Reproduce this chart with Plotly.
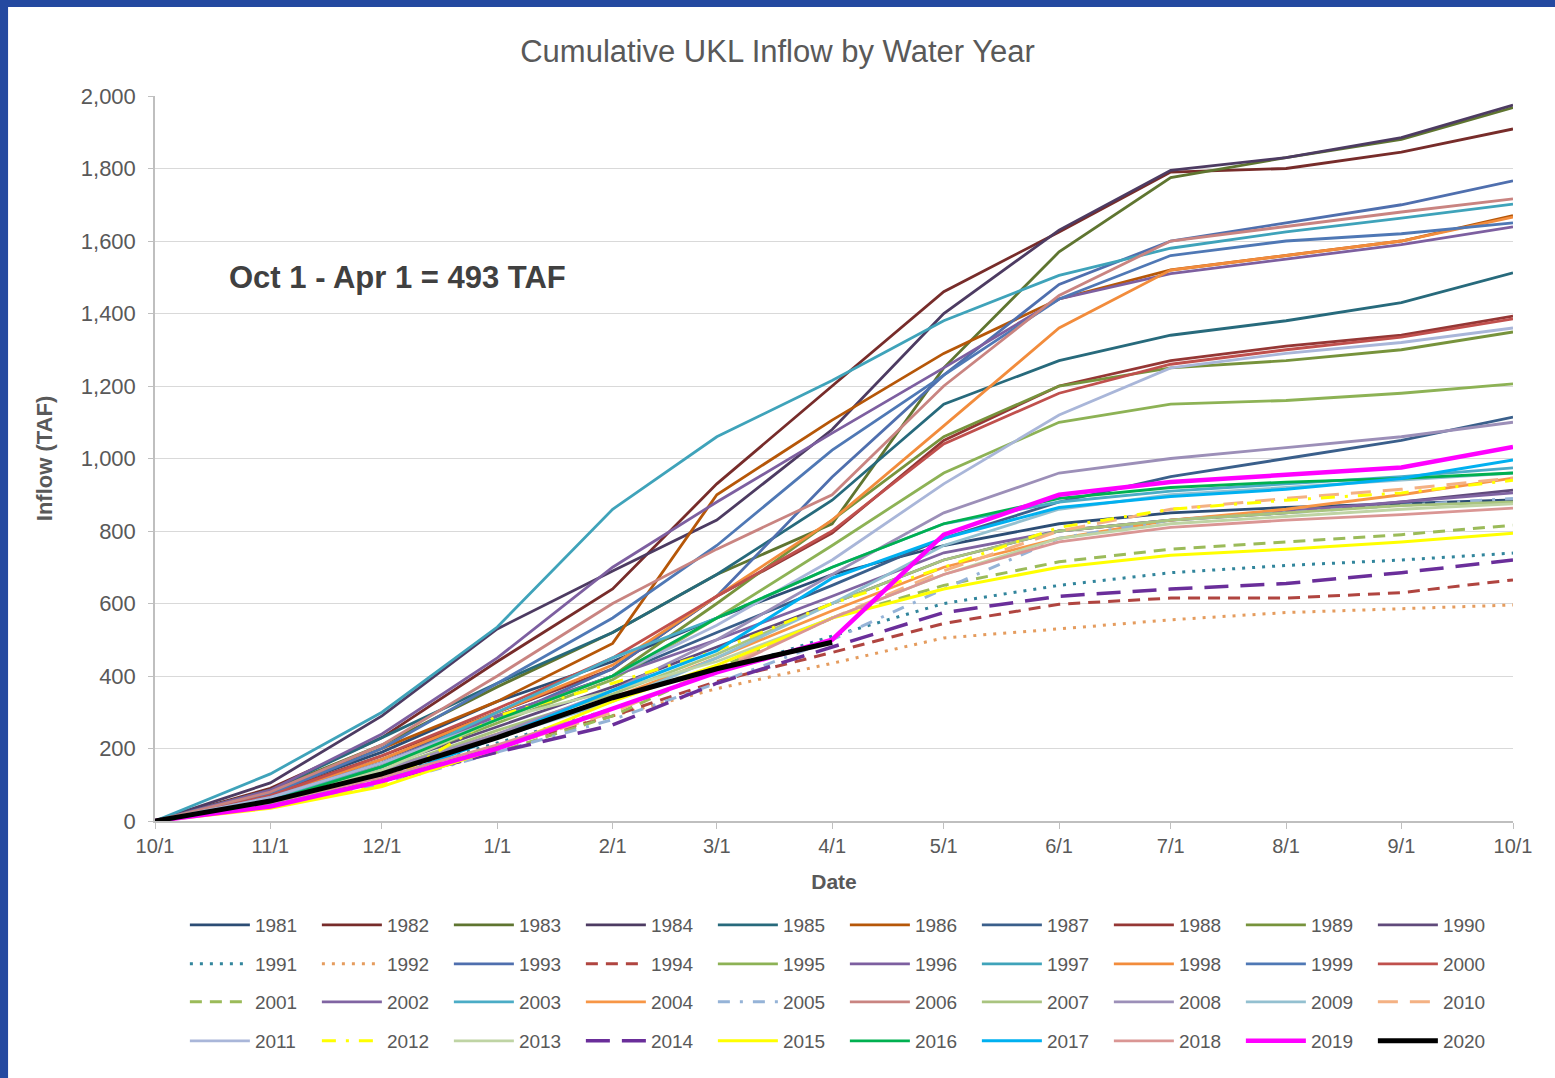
import plotly.graph_objects as go

# first of each month over one water year (Oct 1 -> Oct 1)
DATES = [
    "2018-10-01", "2018-11-01", "2018-12-01", "2019-01-01", "2019-02-01",
    "2019-03-01", "2019-04-01", "2019-05-01", "2019-06-01", "2019-07-01",
    "2019-08-01", "2019-09-01", "2019-10-01",
]

# cumulative inflow (TAF) read at each month start
INFLOW_1981 = [0, 80, 190, 330, 440, 560, 680, 760, 820, 850, 865, 875, 886]
INFLOW_1982 = [0, 90, 230, 440, 640, 930, 1200, 1460, 1625, 1790, 1800, 1845, 1909]
INFLOW_1983 = [0, 85, 210, 370, 520, 680, 820, 1250, 1570, 1775, 1830, 1880, 1968]
INFLOW_1984 = [0, 105, 290, 530, 690, 830, 1080, 1400, 1630, 1795, 1830, 1885, 1975]
INFLOW_1985 = [0, 85, 230, 380, 520, 680, 885, 1150, 1270, 1340, 1380, 1430, 1512]
INFLOW_1986 = [0, 80, 200, 330, 490, 900, 1106, 1290, 1440, 1520, 1560, 1600, 1670]
INFLOW_1987 = [0, 70, 170, 290, 400, 520, 650, 780, 880, 950, 1000, 1050, 1114]
INFLOW_1988 = [0, 75, 180, 300, 420, 620, 794, 1050, 1200, 1270, 1310, 1340, 1393]
INFLOW_1989 = [0, 65, 160, 280, 400, 600, 830, 1060, 1200, 1250, 1270, 1300, 1349]
INFLOW_1990 = [0, 60, 150, 260, 370, 480, 600, 720, 800, 830, 850, 880, 913]
INFLOW_1991 = [0, 50, 125, 215, 310, 410, 510, 600, 650, 685, 705, 720, 739]
INFLOW_1992 = [0, 45, 120, 210, 290, 365, 435, 505, 530, 555, 575, 585, 596]
INFLOW_1993 = [0, 60, 160, 280, 420, 620, 949, 1230, 1480, 1600, 1650, 1700, 1766]
INFLOW_1994 = [0, 50, 120, 205, 290, 385, 465, 545, 598, 615, 615, 630, 665]
INFLOW_1995 = [0, 60, 150, 270, 390, 560, 760, 960, 1100, 1150, 1160, 1180, 1206]
INFLOW_1996 = [0, 85, 240, 450, 700, 880, 1070, 1250, 1440, 1510, 1550, 1590, 1639]
INFLOW_1997 = [0, 130, 300, 535, 860, 1060, 1215, 1380, 1505, 1580, 1625, 1663, 1702]
INFLOW_1998 = [0, 70, 170, 300, 430, 620, 830, 1090, 1360, 1520, 1560, 1600, 1666]
INFLOW_1999 = [0, 75, 200, 380, 560, 760, 1023, 1230, 1440, 1560, 1600, 1620, 1650]
INFLOW_2000 = [0, 70, 180, 310, 450, 620, 800, 1040, 1180, 1260, 1300, 1335, 1385]
INFLOW_2001 = [0, 45, 110, 190, 290, 420, 560, 650, 715, 750, 770, 790, 816]
INFLOW_2002 = [0, 65, 160, 290, 400, 500, 620, 740, 800, 830, 855, 880, 905]
INFLOW_2003 = [0, 60, 150, 300, 450, 560, 700, 820, 880, 910, 930, 950, 974]
INFLOW_2004 = [0, 55, 140, 240, 340, 450, 580, 700, 780, 830, 860, 900, 946]
INFLOW_2005 = [0, 40, 100, 190, 280, 380, 500, 640, 780, 830, 850, 870, 890]
INFLOW_2006 = [0, 80, 210, 400, 600, 750, 900, 1200, 1450, 1600, 1640, 1680, 1716]
INFLOW_2007 = [0, 55, 140, 250, 350, 460, 600, 720, 800, 830, 850, 870, 880]
INFLOW_2008 = [0, 55, 140, 240, 360, 500, 680, 850, 960, 1000, 1030, 1060, 1100]
INFLOW_2009 = [0, 50, 130, 230, 330, 450, 600, 760, 860, 900, 920, 940, 960]
INFLOW_2010 = [0, 45, 110, 200, 300, 420, 560, 690, 800, 860, 890, 915, 946]
INFLOW_2011 = [0, 65, 160, 280, 400, 540, 720, 930, 1120, 1250, 1290, 1320, 1360]
INFLOW_2012 = [0, 40, 100, 290, 380, 470, 600, 700, 810, 860, 885, 905, 940]
INFLOW_2013 = [0, 55, 140, 280, 360, 440, 560, 680, 780, 820, 840, 860, 875]
INFLOW_2014 = [0, 45, 110, 190, 265, 380, 480, 575, 620, 640, 655, 685, 720]
INFLOW_2015 = [0, 35, 95, 200, 330, 430, 560, 640, 700, 733, 750, 770, 794]
INFLOW_2016 = [0, 55, 150, 280, 400, 560, 700, 820, 890, 920, 935, 945, 960]
INFLOW_2017 = [0, 45, 110, 230, 360, 470, 670, 780, 865, 895, 915, 945, 996]
INFLOW_2018 = [0, 50, 120, 210, 310, 410, 560, 680, 770, 810, 830, 845, 863]
INFLOW_2019 = [0, 40, 110, 200, 310, 410, 500, 790, 900, 935, 955, 975, 1032]
INFLOW_2020 = [0, 55, 130, 230, 340, 420, 493]  # through Apr 1

SERIES = {
    1981: INFLOW_1981, 1982: INFLOW_1982, 1983: INFLOW_1983, 1984: INFLOW_1984,
    1985: INFLOW_1985, 1986: INFLOW_1986, 1987: INFLOW_1987, 1988: INFLOW_1988,
    1989: INFLOW_1989, 1990: INFLOW_1990, 1991: INFLOW_1991, 1992: INFLOW_1992,
    1993: INFLOW_1993, 1994: INFLOW_1994, 1995: INFLOW_1995, 1996: INFLOW_1996,
    1997: INFLOW_1997, 1998: INFLOW_1998, 1999: INFLOW_1999, 2000: INFLOW_2000,
    2001: INFLOW_2001, 2002: INFLOW_2002, 2003: INFLOW_2003, 2004: INFLOW_2004,
    2005: INFLOW_2005, 2006: INFLOW_2006, 2007: INFLOW_2007, 2008: INFLOW_2008,
    2009: INFLOW_2009, 2010: INFLOW_2010, 2011: INFLOW_2011, 2012: INFLOW_2012,
    2013: INFLOW_2013, 2014: INFLOW_2014, 2015: INFLOW_2015, 2016: INFLOW_2016,
    2017: INFLOW_2017, 2018: INFLOW_2018, 2019: INFLOW_2019, 2020: INFLOW_2020,
}

# (color, dash, width)
STYLE = {
    1981: ("#2C4D75", "solid", 2.8), 1982: ("#772C2A", "solid", 2.8),
    1983: ("#5F7530", "solid", 2.8), 1984: ("#4D3B62", "solid", 2.8),
    1985: ("#276A7C", "solid", 2.8), 1986: ("#B65708", "solid", 2.8),
    1987: ("#3A5F8B", "solid", 2.8), 1988: ("#953735", "solid", 2.8),
    1989: ("#77933C", "solid", 2.8), 1990: ("#604A7B", "solid", 2.8),
    1991: ("#31859C", "3px,7px", 3), 1992: ("#E59C5E", "3px,7px", 3),
    1993: ("#4F6FAE", "solid", 2.8), 1994: ("#B04540", "12px,8px", 3),
    1995: ("#8DB255", "solid", 2.8), 1996: ("#7D5FA0", "solid", 2.8),
    1997: ("#3FA3BA", "solid", 2.8), 1998: ("#F28C3C", "solid", 2.8),
    1999: ("#4F78B5", "solid", 2.8), 2000: ("#C0504D", "solid", 2.8),
    2001: ("#9BBB59", "12px,8px", 3), 2002: ("#8064A2", "solid", 2.8),
    2003: ("#4BACC6", "solid", 2.8), 2004: ("#F79646", "solid", 2.8),
    2005: ("#95B3D7", "12px,10px,3px,10px", 3), 2006: ("#C98481", "solid", 2.8),
    2007: ("#A9C47F", "solid", 2.8), 2008: ("#9C8FB8", "solid", 2.8),
    2009: ("#93C0D0", "solid", 2.8), 2010: ("#F4B183", "20px,12px", 3),
    2011: ("#A9B6D9", "solid", 2.8), 2012: ("#FFFF00", "14px,10px,3px,10px", 3),
    2013: ("#BFD4A4", "solid", 2.8), 2014: ("#6A2E9A", "24px,12px", 3.5),
    2015: ("#FFFF00", "solid", 3), 2016: ("#00B050", "solid", 2.8),
    2017: ("#00B0F0", "solid", 3), 2018: ("#DA9694", "solid", 2.8),
    2019: ("#FF00FF", "solid", 4.5), 2020: ("#000000", "solid", 5),
}

FONT = "Arial, Liberation Sans, sans-serif"
GREY = "#595959"

fig = go.Figure()

legend_ids = ["legend", "legend2", "legend3", "legend4"]
for i, (year, vals) in enumerate(SERIES.items()):
    color, dash, width = STYLE[year]
    fig.add_trace(go.Scatter(
        x=DATES[:len(vals)],
        y=vals,
        mode="lines",
        name=str(year),
        line=dict(color=color, dash=dash, width=width),
        legend=legend_ids[i // 10],
        hoverinfo="skip",
    ))

# one legend per row (container coords) so row spacing matches
row_y = [0.1419, 0.1058, 0.0705, 0.0343]
legend_font = dict(family=FONT, size=19, color=GREY)
for lid, yy in zip(legend_ids, row_y):
    fig.update_layout({lid: dict(
        orientation="h", x=0.022, xanchor="left",
        y=yy, yref="container", yanchor="middle",
        itemwidth=60, entrywidth=57, entrywidthmode="pixels", font=legend_font,
        bgcolor="rgba(0,0,0,0)", traceorder="normal", itemclick=False,
    )})

fig.add_annotation(
    text="<b>Oct 1 - Apr 1 = 493 TAF</b>",
    xref="paper", yref="paper", x=0.053, y=0.749,
    xanchor="left", yanchor="middle", showarrow=False,
    font=dict(family=FONT, size=31, color="#404040"),
)

# blue frame on left and top edges of the slide
fig.add_shape(type="rect", xref="paper", yref="paper",
              x0=-0.12, x1=-0.1082, y0=-0.4, y1=1.2,
              fillcolor="#2449A0", line_width=0, layer="above")
fig.add_shape(type="rect", xref="paper", yref="paper",
              x0=-0.12, x1=1.05, y0=1.1228, y1=1.2,
              fillcolor="#2449A0", line_width=0, layer="above")

fig.update_layout(
    width=1555, height=1078,
    margin=dict(l=155, r=42, t=96, b=257, autoexpand=False),
    paper_bgcolor="white", plot_bgcolor="white",
    title=dict(text="Cumulative UKL Inflow by Water Year", x=0.5, xanchor="center",
               y=0.953, yanchor="middle", font=dict(family=FONT, size=31, color=GREY)),
    font=dict(family=FONT, color=GREY),
    xaxis=dict(
        type="date", range=["2018-10-01", "2019-10-01"],
        tick0="2018-10-01", dtick="M1", tickformat="%-m/%-d",
        ticks="outside", ticklen=6, tickcolor="#bfbfbf",
        showline=True, linecolor="#bfbfbf", linewidth=1.5,
        showgrid=False, zeroline=False, automargin=False,
        tickfont=dict(family=FONT, size=20, color=GREY),
        title=dict(text="<b>Date</b>", standoff=19, font=dict(family=FONT, size=21, color=GREY)),
    ),
    yaxis=dict(
        range=[0, 2000], dtick=200, tickformat=",",
        ticks="outside", ticklen=5, tickcolor="#bfbfbf", ticklabelstandoff=8,
        showline=True, linecolor="#bfbfbf", linewidth=1.5,
        gridcolor="#d9d9d9", gridwidth=1, zeroline=False, automargin=False,
        tickfont=dict(family=FONT, size=22, color=GREY),
        title=dict(text="<b>Inflow (TAF)</b>", standoff=22, font=dict(family=FONT, size=22, color=GREY)),
    ),
)

fig.write_html("out.html", config={"displayModeBar": False},
               post_script="document.body.style.margin='0';")
